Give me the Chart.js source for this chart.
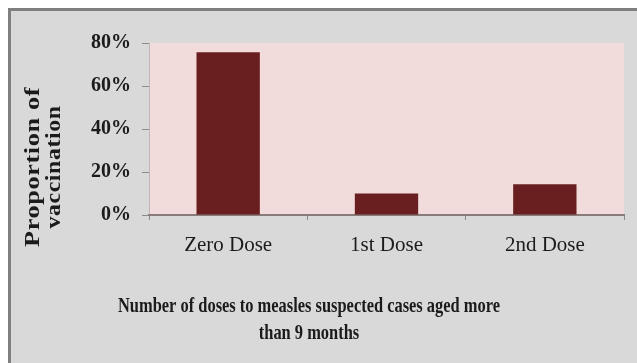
<!DOCTYPE html>
<html><head><meta charset="utf-8">
<script src="https://cdn.jsdelivr.net/npm/chart.js@4"></script>
<style>html,body{margin:0;padding:0;background:#fff;overflow:hidden}#wrap{width:637px;height:363px;position:relative}</style>
</head><body><div id="wrap"><canvas id="c" width="637" height="363"></canvas></div>
<script>
// Share of suspected measles cases (aged > 9 months) by number of vaccine doses
const categories = ['Zero Dose', '1st Dose', '2nd Dose'];
const proportions = [75.7, 10.0, 14.3];
const yTickValues = [0, 20, 40, 60, 80];
const xTitleLines = ['Number of doses to measles suspected cases aged more', 'than 9 months'];
const yTitleLines = ['Proportion of', 'vaccination'];

const SERIF = '"Liberation Serif", "Times New Roman", serif';
const TEXT = '#1b1b1b';

// draw text squeezed/stretched along its run to a given width
function fitText(ctx, str, cx, cy, width) {
  const w = ctx.measureText(str).width;
  ctx.save();
  ctx.translate(cx, cy);
  ctx.scale(width / w, 1);
  ctx.fillText(str, 0, 0);
  ctx.restore();
}

const framePlugin = {
  id: 'frame',
  beforeDraw(chart) {
    const { ctx, chartArea: a } = chart;
    ctx.save();
    ctx.fillStyle = '#ffffff';
    ctx.fillRect(0, 0, chart.width, chart.height);
    ctx.fillStyle = '#d9d9d9';
    ctx.fillRect(8, 8, chart.width - 8, chart.height - 8);
    ctx.fillStyle = '#7f7f7f';
    ctx.fillRect(8, 8, chart.width - 8, 3);
    ctx.fillRect(8, 8, 3, chart.height - 8);
    ctx.fillStyle = '#f2dcdb';
    ctx.fillRect(a.left, a.top, a.right - a.left, a.bottom - a.top);
    ctx.restore();
  },
  afterDraw(chart) {
    const { ctx } = chart;
    ctx.save();
    ctx.fillStyle = TEXT;
    ctx.textAlign = 'center';
    ctx.textBaseline = 'middle';
    // x axis title, two centred lines in a condensed bold face
    ctx.font = 'bold 22px ' + SERIF;
    const sx = 382 / ctx.measureText(xTitleLines[0]).width;
    xTitleLines.forEach((line, i) => {
      fitText(ctx, line, 309, 306 + i * 27, ctx.measureText(line).width * sx);
    });
    // rotated y axis title
    ctx.font = 'bold 22px ' + SERIF;
    ctx.letterSpacing = '0.5px';
    const spans = [160, 123];
    const xs = [33, 54];
    yTitleLines.forEach((line, i) => {
      ctx.save();
      ctx.translate(xs[i], 167);
      ctx.rotate(-Math.PI / 2);
      fitText(ctx, line, 0, 0, spans[i]);
      ctx.restore();
    });
    ctx.restore();
  }
};

new Chart(document.getElementById('c'), {
  type: 'bar',
  data: {
    labels: categories,
    datasets: [{
      data: proportions,
      backgroundColor: '#691f1f',
      borderWidth: 0,
      categoryPercentage: 1,
      barPercentage: 0.4
    }]
  },
  options: {
    responsive: false,
    animation: false,
    devicePixelRatio: 1,
    layout: { padding: { top: 43, right: 13, left: 0, bottom: 0 } },
    plugins: { legend: { display: false }, tooltip: { enabled: false } },
    scales: {
      y: {
        min: yTickValues[0],
        max: yTickValues[yTickValues.length - 1],
        afterBuildTicks(s) { s.ticks = yTickValues.map(v => ({ value: v })); },
        afterFit(s) { s.width = 149; },
        ticks: {
          callback: v => v + '%',
          color: TEXT,
          padding: 11,
          font: { family: SERIF, size: 20, weight: 'bold' }
        },
        grid: { drawOnChartArea: false, drawTicks: true, tickLength: 7, color: '#8c8c8c' },
        border: { display: true, color: '#c4b6b6', width: 1 }
      },
      x: {
        afterFit(s) { s.height = 148; },
        ticks: {
          color: TEXT,
          padding: 13,
          font: { family: SERIF, size: 21 }
        },
        grid: { drawOnChartArea: false, drawTicks: true, tickLength: 5, offset: true, color: '#8c8c8c' },
        border: { display: true, color: '#8a7b7b', width: 2 }
      }
    }
  },
  plugins: [framePlugin]
});
</script>
</body></html>
